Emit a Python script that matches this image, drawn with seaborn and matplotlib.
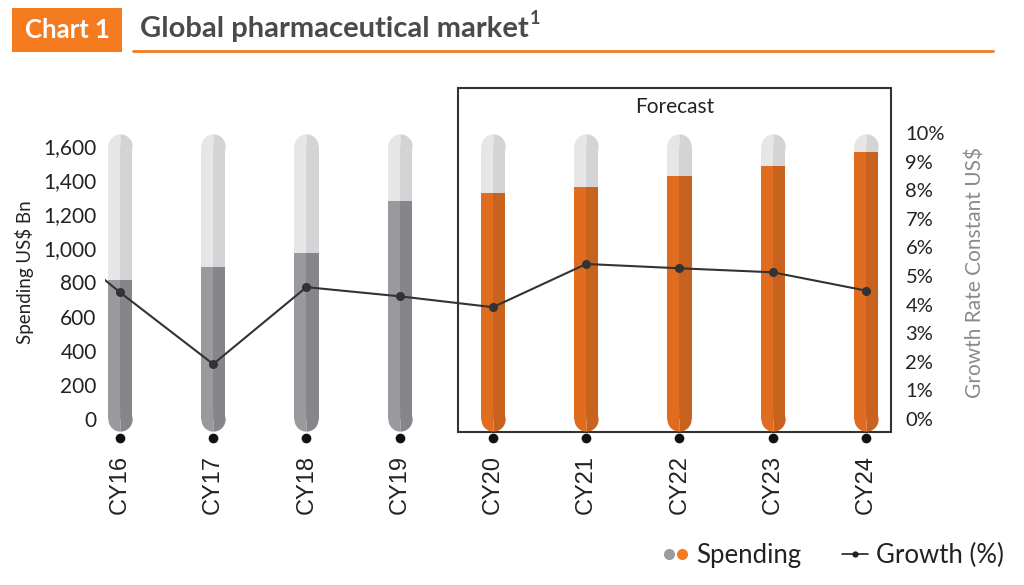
import numpy as np
import pandas as pd
import matplotlib
matplotlib.use('Agg')
import matplotlib.pyplot as plt
import seaborn as sns
from matplotlib.patches import Rectangle
from matplotlib.lines import Line2D
from matplotlib.legend_handler import HandlerTuple
import matplotlib.transforms as mtransforms

# ---------------- data ----------------
years = ['CY16', 'CY17', 'CY18', 'CY19', 'CY20', 'CY21', 'CY22', 'CY23', 'CY24']
spending = [815, 888, 970, 1280, 1322, 1358, 1423, 1485, 1567]
growth = [4.43, 1.92, 4.61, 4.29, 3.91, 5.42, 5.27, 5.13, 4.49]
forecast = [False, False, False, False, True, True, True, True, True]
growth_cy15 = 7.1          # previous year, only its segment is visible
bar_max = 1600             # height of the light background "tube"
left_ticks = [0, 200, 400, 600, 800, 1000, 1200, 1400, 1600]
right_ticks = [0, 1, 2, 3, 4, 5, 6, 7, 8, 9, 10]

# ---------------- style ----------------
sns.set_theme(style='white')
plt.rcParams['font.family'] = ['Lato', 'DejaVu Sans']

GREY_L, GREY_R = '#9a9a9e', '#86868a'
ORNG_L, ORNG_R = '#e06c20', '#c8621f'
BG_L, BG_R = '#e6e6e7', '#d3d4d6'
ORANGE = '#f47b20'
DARK = '#222222'

W, H = 1024, 585
fig = plt.figure(figsize=(W / 100, H / 100), dpi=100)


def px(x0, y0, x1, y1):
    return [x0 / W, 1 - y1 / H, (x1 - x0) / W, (y1 - y0) / H]


ax = fig.add_axes(px(105, 133, 893, 419))

# long tables for two-tone (left / right half) bars
rows, bg_rows = [], []
for y, s, f in zip(years, spending, forecast):
    for h in ['L', 'R']:
        rows.append(dict(year=y, half=h, value=s, forecast=f))
        bg_rows.append(dict(year=y, half=h, value=bar_max))
df = pd.DataFrame(rows)
bg = pd.DataFrame(bg_rows)

common = dict(x='year', y='value', hue='half', hue_order=['L', 'R'], order=years,
              width=0.26, gap=0, dodge=True, saturation=1, linewidth=0,
              legend=False, errorbar=None, ax=ax)
sns.barplot(data=bg, palette=[BG_L, BG_R], zorder=1, **common)
sns.barplot(data=df[~df.forecast], palette=[GREY_L, GREY_R], zorder=2, **common)
sns.barplot(data=df[df.forecast], palette=[ORNG_L, ORNG_R], zorder=2, **common)

XMIN, XMAX = -0.16, 8.29
ax.set_xlim(XMIN, XMAX)
ax.set_ylim(0, 1676)

# rounded caps (half-filled circles so the two tones continue)
pos = np.arange(len(years))
ax_w_px = (893 - 105)
diam_pt = 0.26 * ax_w_px / (XMAX - XMIN) * 72 / 100
for i, f in zip(pos, forecast):
    ax.plot([i], [bar_max], marker='o', ms=diam_pt, fillstyle='left',
            markerfacecolor=BG_L, markerfacecoloralt=BG_R, mew=0, ls='none',
            clip_on=False, zorder=0.5)
    l, r = (ORNG_L, ORNG_R) if f else (GREY_L, GREY_R)
    ax.plot([i], [0], marker='o', ms=diam_pt, fillstyle='left',
            markerfacecolor=l, markerfacecoloralt=r, mew=0, ls='none',
            clip_on=False, zorder=3)

blend = mtransforms.blended_transform_factory(ax.transData, ax.transAxes)
# small dots below each bar
ax.plot(pos, [-0.066] * len(pos), 'o', color='#111111', ms=7, mew=0,
        transform=blend, clip_on=False)

# forecast box
ax.add_patch(Rectangle((3.62, -0.045), 8.27 - 3.62, 1.157 + 0.045, fill=False,
                       ec='#333333', lw=1.5, transform=blend, clip_on=False, zorder=0))
ax.text((3.62 + 8.27) / 2, 1.091, 'Forecast', transform=blend, ha='center',
        va='center', fontsize=15, color=DARK)

# axes ticks
ax.set_yticks(left_ticks)
ax.set_yticklabels([f'{v:,}' for v in left_ticks])
ax.tick_params(axis='y', length=0, pad=6, labelsize=15, labelcolor=DARK)
ax.set_xticks(pos)
ax.set_xticklabels(years, rotation=90, fontsize=17, color=DARK,
                   fontfamily=['Liberation Sans', 'DejaVu Sans'])
ax.tick_params(axis='x', length=0, pad=26)
ax.set_xlabel('')
ax.set_ylabel('')

# growth line
ax2 = ax.twinx()
sns.lineplot(x=np.arange(-1, len(years)), y=[growth_cy15] + growth, ax=ax2,
             color='#333333', linewidth=1.5, marker='o', markersize=6.5,
             markeredgewidth=0)
ax2.set_ylim(0, 10)
ax2.set_xlim(XMIN, XMAX)
ax2.set_yticks(right_ticks)
ax2.set_yticklabels([f'{v}%' for v in right_ticks])
ax2.tick_params(axis='y', length=0, pad=9, labelsize=14.5, labelcolor=DARK)
ax2.set_ylabel('')
ax2.grid(False)
ax.grid(False)
for a in (ax, ax2):
    for sp in a.spines.values():
        sp.set_visible(False)

# axis titles
fig.text(25 / W, 1 - 272 / H, 'Spending US$ Bn', rotation=90, ha='center',
         va='center', fontsize=13.5, color=DARK)
fig.text(975 / W, 1 - 273 / H, 'Growth Rate Constant US$', rotation=90,
         ha='center', va='center', fontsize=15, color='#8a8a8a')

# header
fig.add_artist(Rectangle((12 / W, 1 - 52 / H), 110 / W, 44 / H,
                         transform=fig.transFigure, color=ORANGE, lw=0))
fig.text(67 / W, 1 - 30 / H, 'Chart 1', ha='center', va='center', fontsize=18.5,
         fontweight='bold', color='white')
t = fig.text(140 / W, 1 - 29 / H, 'Global pharmaceutical market', ha='left',
             va='center', fontsize=21, fontweight='bold', color='#4a4a4a')
fig.add_artist(Line2D([133 / W, 993 / W], [1 - 51 / H, 1 - 51 / H],
                      transform=fig.transFigure, color=ORANGE, lw=2))
fig.canvas.draw()
bb = t.get_window_extent()
fig.text((bb.x1 + 1) / W, 1 - 19 / H, '1', ha='left', va='center', fontsize=13,
         fontweight='bold', color='#4a4a4a')

# legend
h_sp = (Line2D([], [], marker='o', ls='none', color='#9c9ca0', ms=8, mew=0),
        Line2D([], [], marker='o', ls='none', color=ORANGE, ms=8, mew=0))
h_gr = Line2D([], [], color='#222222', marker='o', ms=4.5, lw=1.2, mew=0)
fig.legend([h_sp, h_gr], ['Spending', 'Growth (%)'],
           handler_map={tuple: HandlerTuple(ndivide=None, pad=0.0)},
           loc='center right', bbox_to_anchor=(1014 / W, 1 - 555 / H), ncol=2,
           frameon=False, fontsize=18.5, handlelength=1.0, columnspacing=1.6,
           handletextpad=0.3, labelcolor=DARK, borderaxespad=0)

fig.savefig('out.png', dpi=100)
